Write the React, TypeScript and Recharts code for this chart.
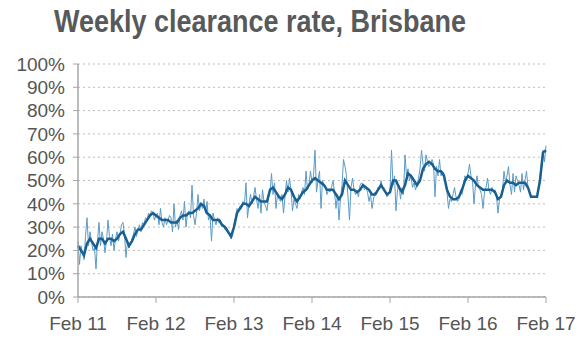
import React from 'react';
import { LineChart, Line, XAxis, YAxis, CartesianGrid } from 'recharts';

// Week index since Feb 2011 (weekly observations)
const xTicks = [0, 52, 104, 156, 208, 260, 312];
const xTickLabels = ['Feb 11', 'Feb 12', 'Feb 13', 'Feb 14', 'Feb 15', 'Feb 16', 'Feb 17'];
const yTicks = [0, 10, 20, 30, 40, 50, 60, 70, 80, 90, 100];

// Weekly clearance rate (%), one value per week, weeks 0..312
const weeklyRate = [
  24, 14, 22, 19, 16, 26, 34, 22, 28, 24,
  20, 21, 12, 24, 32, 22, 28, 25, 19, 24,
  33, 26, 22, 27, 20, 25, 28, 24, 27, 31,
  32, 27, 17, 24, 21, 23, 25, 27, 30, 26,
  29, 31, 28, 32, 31, 34, 33, 36, 35, 37,
  36, 33, 35,
  36, 31, 38, 32, 30, 34, 31, 33, 35, 34,
  28, 40, 30, 33, 29, 35, 37, 33, 41, 30,
  36, 37, 34, 48, 35, 31, 36, 44, 37, 40,
  38, 42, 36, 41, 33, 35, 24, 36, 33, 31,
  34, 32, 33, 30, 31, 29, 30, 28, 27, 25,
  26, 31,
  34, 38, 37, 39, 38, 41, 40, 49, 34, 40,
  44, 40, 43, 47, 42, 38, 44, 36, 46, 41,
  39, 37, 43, 45, 53, 44, 49, 38, 44, 42,
  41, 44, 36, 43, 50, 45, 51, 46, 37, 42,
  40, 38, 44, 42, 45, 47, 44, 54, 46, 48,
  54, 49,
  52, 63, 45, 50, 54, 38, 50, 48, 47, 44,
  46, 45, 47, 50, 45, 38, 44, 33, 42, 48,
  59, 56, 52, 43, 33, 47, 51, 46, 44, 45,
  43, 48, 49, 48, 46, 47, 45, 41, 44, 38,
  42, 45, 44, 47, 46, 50, 47, 47, 45, 43,
  44, 46,
  63, 48, 52, 37, 46, 48, 42, 47, 44, 61,
  52, 55, 50, 52, 47, 49, 46, 48, 51, 55,
  63, 57, 54, 61, 58, 56, 57, 59, 57, 43,
  56, 52, 59, 52, 54, 53, 49, 45, 38, 42,
  41, 44, 47, 43, 41, 42, 46, 44, 48, 52,
  50, 53,
  57, 52, 50, 40, 48, 52, 47, 46, 44, 38,
  45, 47, 51, 46, 44, 47, 45, 46, 43, 36,
  42, 44, 46, 54, 49, 52, 56, 48, 44, 53,
  45, 52, 50, 48, 45, 53, 46, 50, 54, 47,
  45, 43, 43, 43, 43, 43, 46, 52, 58, 63,
  58, 65,
];

// Smoothed clearance rate (%), read every second week: weeks 0,2,4..312
const smoothedRate = [
  22, 20, 18, 23, 25, 23, 21, 25, 25, 23, 25, 25, 24, 25, 27, 28, 25, 22, 24, 27, 29, 29, 31, 33, 35, 36,
  35, 34, 33, 33, 33, 32, 32, 32, 34, 35, 35, 36, 36, 37, 38, 40, 39, 36, 35, 33, 33, 33, 31, 30, 28, 26,
  30, 36, 38, 40, 40, 39, 41, 43, 42, 41, 41, 41, 46, 47, 45, 43, 42, 44, 47, 46, 43, 41, 43, 45, 46, 48,
  50, 51, 50, 49, 48, 46, 46, 46, 44, 42, 44, 50, 48, 46, 46, 45, 46, 48, 47, 46, 44, 44, 46, 48, 46, 44,
  45, 50, 50, 47, 45, 48, 53, 52, 50, 48, 50, 55, 57, 58, 57, 55, 54, 54, 52, 46, 43, 42, 42, 43, 46, 50,
  52, 51, 50, 48, 47, 46, 46, 46, 46, 45, 42, 43, 48, 50, 49, 49, 48, 49, 49, 49, 47, 43, 43, 43, 50, 62, 63,
];

const tableRows = weeklyRate.map((v, i) => ({
  week: i,
  weekly: v,
  smoothed: i % 2 === 0 && smoothedRate[i / 2] !== undefined ? smoothedRate[i / 2] : null,
}));

const tickStyle = { fontFamily: 'Liberation Sans, Arial, sans-serif', fontSize: 19, fill: '#555' };

export default function App() {
  return (
    <div style={{ position: 'absolute', left: 0, top: 0, width: 580, height: 352, background: '#fff' }}>
      <div
        style={{
          position: 'absolute',
          left: 0,
          top: 4,
          width: 520,
          textAlign: 'center',
          fontFamily: 'Liberation Sans, Arial, sans-serif',
          fontWeight: 'bold',
          fontSize: 31,
          color: '#58595b',
          whiteSpace: 'nowrap',
          transform: 'scaleX(0.87)',
          transformOrigin: '260px 50%',
        }}
      >
        Weekly clearance rate, Brisbane
      </div>
      <LineChart
        width={580}
        height={352}
        data={tableRows}
        margin={{ top: 64, right: 34, bottom: 25, left: 0 }}
        style={{ position: 'absolute', left: 0, top: 0 }}
      >
        <CartesianGrid vertical={false} stroke="#bdbdbd" strokeDasharray="2 3" />
        <XAxis
          dataKey="week"
          type="number"
          domain={[0, 312]}
          ticks={xTicks}
          tickFormatter={(v) => xTickLabels[xTicks.indexOf(v)]}
          axisLine={{ stroke: '#a6a6a6', strokeWidth: 1.5 }}
          tickLine={{ stroke: '#a6a6a6' }}
          tickSize={6}
          tickMargin={14}
          tick={tickStyle}
          interval={0}
          height={30}
        />
        <YAxis
          type="number"
          domain={[0, 100]}
          ticks={yTicks}
          tickFormatter={(v) => `${v}%`}
          width={78}
          axisLine={{ stroke: '#a6a6a6', strokeWidth: 1.5 }}
          tickLine={{ stroke: '#a6a6a6' }}
          tickSize={5}
          tickMargin={8}
          tick={tickStyle}
          interval={0}
        />
        <Line
          dataKey="weekly"
          type="linear"
          stroke="#5b9ac8"
          strokeWidth={1}
          dot={false}
          isAnimationActive={false}
        />
        <Line
          dataKey="smoothed"
          type="linear"
          stroke="#195f8f"
          strokeWidth={2.5}
          dot={false}
          connectNulls
          isAnimationActive={false}
        />
      </LineChart>
    </div>
  );
}
